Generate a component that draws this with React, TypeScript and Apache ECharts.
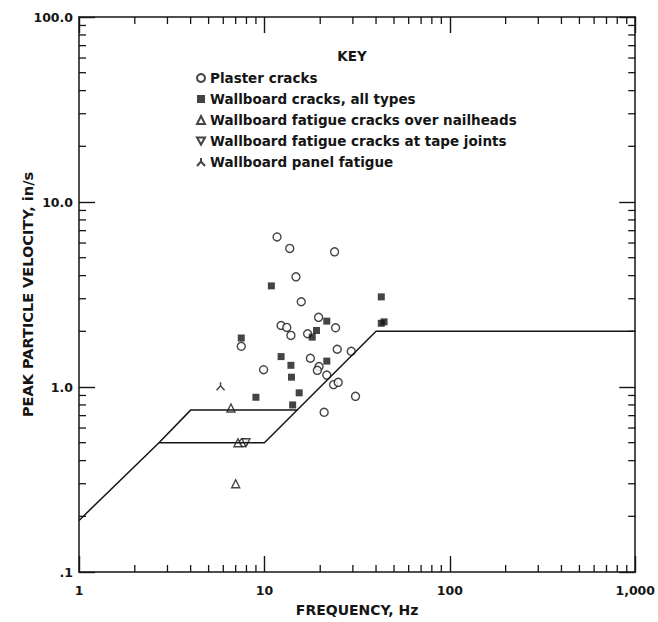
import React, { useEffect, useRef } from "react";
import * as echarts from "echarts";

// ---- data (frequency Hz, peak particle velocity in/s) ----
const plasterCracks: [number, number][] = [
  [11.7, 6.47], [13.7, 5.61], [23.9, 5.38], [14.8, 3.94], [15.8, 2.89],
  [19.6, 2.38], [24.2, 2.09], [12.3, 2.15], [13.2, 2.1], [13.9, 1.9],
  [17.1, 1.94], [7.5, 1.66], [24.7, 1.6], [29.4, 1.56], [17.7, 1.43],
  [19.7, 1.29], [19.3, 1.23], [9.9, 1.24], [21.7, 1.16], [23.6, 1.03],
  [25.0, 1.06], [31.0, 0.89], [21.0, 0.73], [7.7, 0.5],
];
const wallboardCracks: [number, number][] = [
  [10.9, 3.52], [42.7, 3.07], [42.7, 2.21], [44.2, 2.25], [21.7, 2.27],
  [19.1, 2.02], [18.1, 1.86], [7.5, 1.84], [12.3, 1.46], [21.7, 1.38],
  [13.9, 1.31], [14.0, 1.13], [15.4, 0.93], [9.0, 0.88], [14.2, 0.8],
];
const nailheadFatigue: [number, number][] = [[6.6, 0.77], [7.2, 0.5], [7.0, 0.3]];
const tapeJointFatigue: [number, number][] = [[7.95, 0.5]];
const panelFatigue: [number, number][] = [[5.8, 1.01]];

const lowerCriterion: [number, number][] = [[1, 0.19], [2.7, 0.5], [10, 0.5], [40, 2.0], [1000, 2.0]];
const upperCriterion: [number, number][] = [[2.7, 0.5], [4, 0.75], [15, 0.75]];

const seriesNames = [
  "Plaster cracks",
  "Wallboard cracks, all types",
  "Wallboard fatigue cracks over nailheads",
  "Wallboard fatigue cracks at tape joints",
  "Wallboard panel fatigue",
];

const xTickLabels = ["1", "10", "100", "1,000"];
const yTickLabels = [".1", "1.0", "10.0", "100.0"];
const xMinorTicks = [2, 3, 4, 5, 6, 7, 8, 9, 20, 30, 40, 50, 60, 70, 80, 90, 200, 300, 400, 500, 600, 700, 800, 900];
const yMinorTicks = [0.2, 0.3, 0.4, 0.5, 0.6, 0.7, 0.8, 0.9, 2, 3, 4, 5, 6, 7, 8, 9, 20, 30, 40, 50, 60, 70, 80, 90];

const X_MIN = 1, X_MAX = 1000, Y_MIN = 0.1, Y_MAX = 100;
const INK = "#151515";
const FONT = "DejaVu Sans";

const DOWN_TRI = "path://M0,0 L10,0 L5,9 Z";
const LAMBDA = "path://M0,10 L5,4.5 L10,10 M5,4.5 L5,0";

export default function App() {
  const ref = useRef<HTMLDivElement>(null);
  useEffect(() => {
    if (!ref.current) return;
    const chart = echarts.init(ref.current, null, { renderer: "svg" });
    const hollow = { color: "#fff", borderColor: INK, borderWidth: 1.4 };
    const axisCommon = (pos: string) => ({
      type: "log",
      logBase: 10,
      position: pos,
      nameMoveOverlap: false,
      axisLine: { show: true, lineStyle: { color: INK, width: 1.5 } },
      axisTick: { show: true, inside: true, length: 16, lineStyle: { color: INK, width: 1.4 } },
      splitLine: { show: false },
    });
    const tickStyle = { stroke: INK, lineWidth: 1.3 };
    chart.setOption({
      animation: false,
      backgroundColor: "#fff",
      grid: { left: 79, top: 17, width: 562, height: 561, containLabel: false },
      title: {
        text: "KEY",
        left: 352,
        top: 49,
        padding: 0,
        textAlign: "center",
        textStyle: { fontFamily: FONT, fontSize: 13.5, fontWeight: "bold", color: INK },
      },
      legend: {
        data: seriesNames,
        orient: "vertical",
        left: 196,
        top: 71,
        padding: 0,
        itemWidth: 8,
        itemHeight: 8,
        itemGap: 7,
        textStyle: { fontFamily: FONT, fontSize: 13.5, fontWeight: "bold", color: INK, lineHeight: 13 },
      },
      xAxis: [
        {
          ...axisCommon("bottom"),
          min: X_MIN, max: X_MAX,
          name: "FREQUENCY, Hz",
          nameLocation: "middle",
          nameGap: 31,
          nameTextStyle: { fontFamily: FONT, fontSize: 14, fontWeight: "bold", color: INK },
          axisLabel: {
            margin: 12,
            fontFamily: FONT, fontSize: 12.5, fontWeight: "bold", color: INK,
            formatter: (v: number) => xTickLabels[Math.round(Math.log10(v))] ?? "",
          },
        },
        { ...axisCommon("top"), min: X_MIN, max: X_MAX, axisLabel: { show: false } },
      ],
      yAxis: [
        {
          ...axisCommon("left"),
          min: Y_MIN, max: Y_MAX,
          name: "PEAK PARTICLE VELOCITY, in/s",
          nameLocation: "middle",
          nameGap: 44,
          nameTextStyle: { fontFamily: FONT, fontSize: 14.5, fontWeight: "bold", color: INK },
          axisLabel: {
            margin: 6,
            fontFamily: FONT, fontSize: 12.5, fontWeight: "bold", color: INK,
            formatter: (v: number) => yTickLabels[Math.round(Math.log10(v)) + 1] ?? "",
          },
        },
        { ...axisCommon("right"), min: Y_MIN, max: Y_MAX, axisLabel: { show: false } },
      ],
      series: [
        {
          type: "custom",
          silent: true,
          data: xMinorTicks.map((f) => [f, 1]),
          renderItem: (_p: any, api: any) => {
            const f = api.value(0);
            const b = api.coord([f, Y_MIN]);
            const t = api.coord([f, Y_MAX]);
            return {
              type: "group",
              children: [
                { type: "line", shape: { x1: b[0], y1: b[1], x2: b[0], y2: b[1] - 7 }, style: tickStyle },
                { type: "line", shape: { x1: t[0], y1: t[1], x2: t[0], y2: t[1] + 7 }, style: tickStyle },
              ],
            };
          },
        },
        {
          type: "custom",
          silent: true,
          data: yMinorTicks.map((v) => [10, v]),
          renderItem: (_p: any, api: any) => {
            const v = api.value(1);
            const l = api.coord([X_MIN, v]);
            const r = api.coord([X_MAX, v]);
            return {
              type: "group",
              children: [
                { type: "line", shape: { x1: l[0], y1: l[1], x2: l[0] + 7, y2: l[1] }, style: tickStyle },
                { type: "line", shape: { x1: r[0], y1: r[1], x2: r[0] - 7, y2: r[1] }, style: tickStyle },
              ],
            };
          },
        },
        {
          type: "line",
          data: lowerCriterion,
          showSymbol: false,
          silent: true,
          lineStyle: { color: INK, width: 1.5 },
        },
        {
          type: "line",
          data: upperCriterion,
          showSymbol: false,
          silent: true,
          lineStyle: { color: INK, width: 1.5 },
        },
        {
          name: seriesNames[0], type: "scatter", data: plasterCracks,
          symbol: "circle", symbolSize: 8, itemStyle: hollow,
        },
        {
          name: seriesNames[1], type: "scatter", data: wallboardCracks,
          symbol: "rect", symbolSize: 7, itemStyle: { color: INK },
        },
        {
          name: seriesNames[2], type: "scatter", data: nailheadFatigue,
          symbol: "triangle", symbolSize: 8, itemStyle: hollow,
        },
        {
          name: seriesNames[3], type: "scatter", data: tapeJointFatigue,
          symbol: DOWN_TRI, symbolSize: 8, itemStyle: hollow,
        },
        {
          name: seriesNames[4], type: "scatter", data: panelFatigue,
          symbol: LAMBDA, symbolSize: 8,
          itemStyle: { color: "transparent", borderColor: INK, borderWidth: 1.5 },
        },
      ],
    });
    return () => chart.dispose();
  }, []);
  return (
    <div
      ref={ref}
      style={{ position: "fixed", left: 0, top: 0, width: 658, height: 622, background: "#fff" }}
    />
  );
}
